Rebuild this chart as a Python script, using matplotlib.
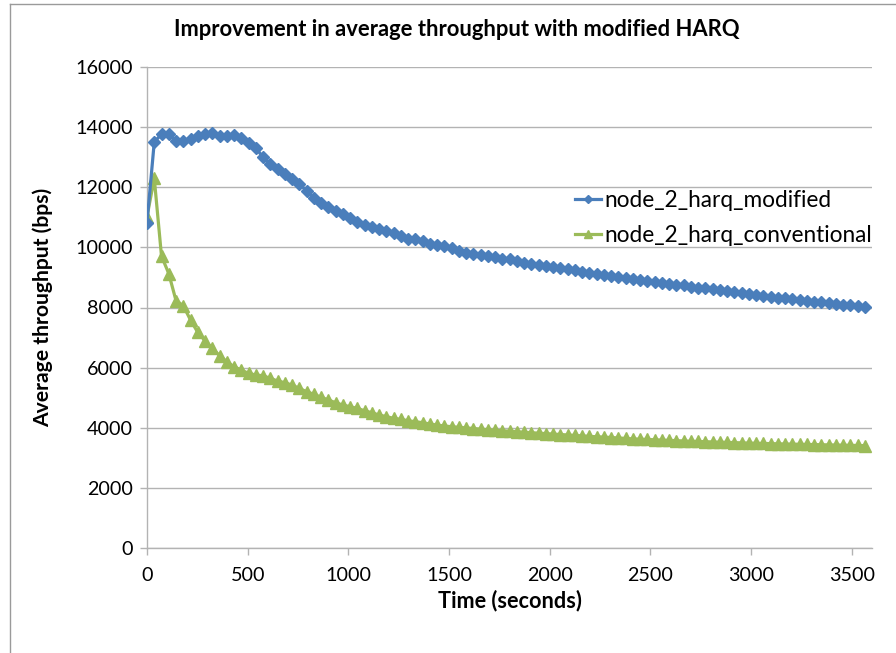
import matplotlib
matplotlib.use("Agg")
import matplotlib.pyplot as plt
from matplotlib.lines import Line2D

# ---- data ----
time_s = list(range(0, 3600, 36))

harq_modified = [
    10820, 13500, 13770, 13780, 13530, 13530, 13600, 13690, 13760, 13790,
    13715, 13705, 13725, 13625, 13480, 13315, 12995, 12765, 12600, 12440,
    12265, 12110, 11885, 11645, 11485, 11355, 11210, 11110, 10975, 10845,
    10735, 10665, 10600, 10545, 10465, 10380, 10290, 10265, 10200, 10110,
    10090, 10055, 9970, 9890, 9825, 9790, 9755, 9725, 9670, 9625,
    9600, 9535, 9470, 9445, 9425, 9390, 9350, 9305, 9270, 9235,
    9190, 9160, 9125, 9090, 9050, 9005, 8970, 8935, 8915, 8880,
    8850, 8815, 8795, 8760, 8735, 8695, 8660, 8635, 8605, 8580,
    8550, 8515, 8480, 8460, 8425, 8395, 8360, 8325, 8305, 8285,
    8250, 8215, 8195, 8170, 8140, 8115, 8095, 8070, 8040, 8005,
]

harq_conventional = [
    11020, 12300, 9710, 9130, 8230, 8060, 7585, 7175, 6895, 6645,
    6400, 6200, 6030, 5920, 5810, 5755, 5730, 5645, 5555, 5500,
    5420, 5310, 5200, 5115, 5015, 4925, 4835, 4755, 4700, 4645,
    4565, 4500, 4425, 4370, 4315, 4280, 4235, 4200, 4170, 4125,
    4090, 4058, 4035, 4015, 3995, 3975, 3955, 3935, 3915, 3900,
    3885, 3870, 3850, 3835, 3820, 3805, 3790, 3775, 3760, 3745,
    3730, 3715, 3700, 3690, 3675, 3660, 3645, 3630, 3620, 3610,
    3600, 3590, 3580, 3570, 3560, 3550, 3545, 3535, 3528, 3520,
    3513, 3505, 3498, 3490, 3484, 3478, 3472, 3466, 3460, 3455,
    3450, 3445, 3440, 3435, 3430, 3425, 3420, 3415, 3410, 3405,
]

series_labels = ["node_2_harq_modified", "node_2_harq_conventional"]
x_ticks = [0, 500, 1000, 1500, 2000, 2500, 3000, 3500]
y_ticks = [0, 2000, 4000, 6000, 8000, 10000, 12000, 14000, 16000]
title = "Improvement in average throughput with modified HARQ"
xlabel = "Time (seconds)"
ylabel = "Average throughput (bps)"

# ---- style ----
BLUE = "#4A7EBB"
GREEN = "#9BBB59"
GRID = "#B3B3B3"
BODY_FONT = ["Lato", "DejaVu Sans"]

fig = plt.figure(figsize=(8.96, 6.53), dpi=100)
ax = fig.add_axes([147 / 896, 1 - 548 / 653, (872 - 147) / 896, (548 - 67) / 653])

# outer chart border (top and left visible)
fig.add_artist(Line2D([10 / 896, 10 / 896], [0, 1 - 4 / 653], transform=fig.transFigure,
                      color="#9A9A9A", lw=1.0))
fig.add_artist(Line2D([10 / 896, 1], [1 - 4 / 653, 1 - 4 / 653], transform=fig.transFigure,
                      color="#9A9A9A", lw=1.0))

ax.plot(time_s, harq_modified, color=BLUE, lw=2.3, marker="D", ms=6.5,
        markeredgecolor=BLUE, label=series_labels[0], zorder=4)
ax.plot(time_s, harq_conventional, color=GREEN, lw=2.3, marker="^", ms=8,
        markeredgecolor=GREEN, label=series_labels[1], zorder=3)

ax.set_xlim(0, 3600)
ax.set_ylim(0, 16000)
ax.set_xticks(x_ticks)
ax.set_yticks(y_ticks)
ax.yaxis.grid(True, color=GRID, lw=1.0)
ax.set_axisbelow(True)
for s in ["top", "right"]:
    ax.spines[s].set_visible(False)
for s in ["left", "bottom"]:
    ax.spines[s].set_color(GRID)
    ax.spines[s].set_linewidth(1.0)
ax.tick_params(axis="both", direction="out", length=5, color=GRID, width=1.0,
               labelsize=14.2)
ax.tick_params(axis="x", pad=9)
ax.tick_params(axis="y", pad=5)
for lab in ax.get_xticklabels() + ax.get_yticklabels():
    lab.set_family(BODY_FONT)
    lab.set_color("#000000")

ax.set_xlabel(xlabel, fontsize=15.6, fontweight="bold", family=BODY_FONT, labelpad=4)
ax.set_ylabel(ylabel, fontsize=15.2, fontweight="bold", family=BODY_FONT, labelpad=16)
fig.text(457 / 896, 1 - 30 / 653, title, ha="center", va="center", fontsize=15.8,
         fontweight="bold", family=BODY_FONT)

leg = ax.legend(loc="upper left", bbox_to_anchor=((566 - 147) / 725, (548 - 181) / 481),
                frameon=False, prop={"family": BODY_FONT, "size": 16.3},
                handlelength=1.15, handletextpad=0.15, labelspacing=0.62, markerscale=0.7,
                borderaxespad=0)

fig.savefig("out.png", dpi=100, facecolor="white")
